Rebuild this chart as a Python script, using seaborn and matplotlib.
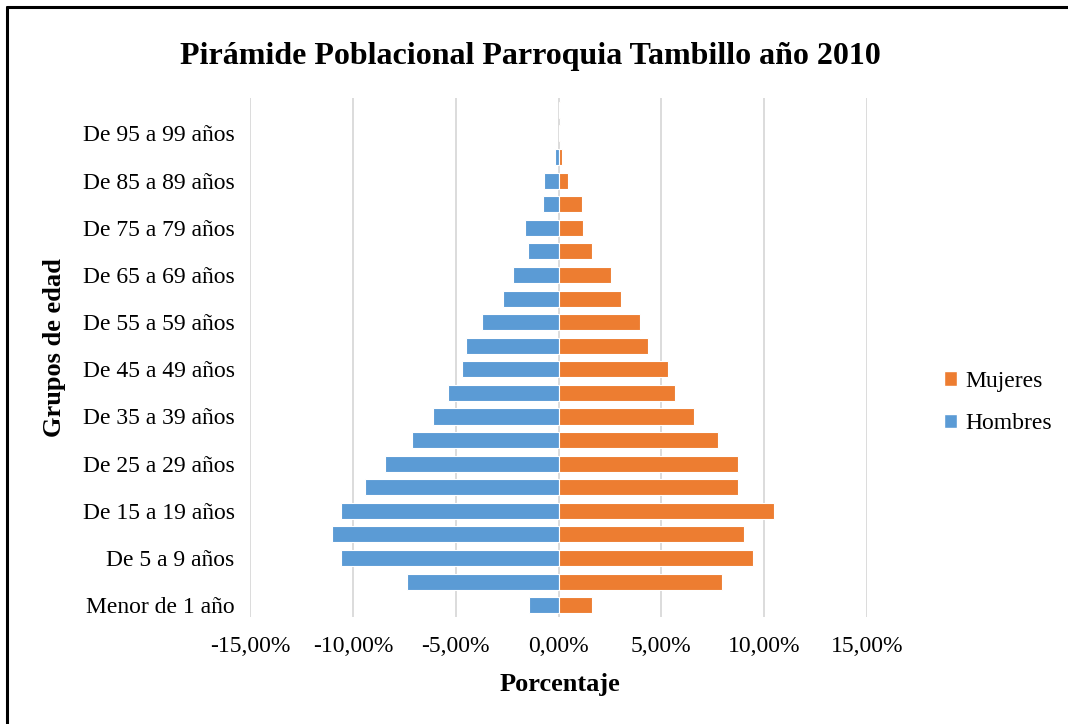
import matplotlib
matplotlib.use("Agg")
import matplotlib.pyplot as plt
from matplotlib.lines import Line2D
from matplotlib.patches import Patch
from matplotlib.ticker import FuncFormatter, MultipleLocator
import numpy as np
import pandas as pd
import seaborn as sns

sns.set_style("white")
plt.rcParams['font.family'] = ['Liberation Serif', 'DejaVu Serif']
plt.rcParams['text.color'] = 'black'
plt.rcParams['axes.labelcolor'] = 'black'

# grupos de edad, de abajo hacia arriba
grupos = ["Menor de 1 año", "De 1 a 4 años", "De 5 a 9 años", "De 10 a 14 años",
          "De 15 a 19 años", "De 20 a 24 años", "De 25 a 29 años", "De 30 a 34 años",
          "De 35 a 39 años", "De 40 a 44 años", "De 45 a 49 años", "De 50 a 54 años",
          "De 55 a 59 años", "De 60 a 64 años", "De 65 a 69 años", "De 70 a 74 años",
          "De 75 a 79 años", "De 80 a 84 años", "De 85 a 89 años", "De 90 a 94 años",
          "De 95 a 99 años", "De 100 años y más"]

# porcentajes (%), hombres negativos
hombres = [-1.42, -7.35, -10.59, -11.03, -10.59, -9.42, -8.45, -7.10,
           -6.11, -5.36, -4.67, -4.49, -3.71, -2.69, -2.22, -1.46,
           -1.62, -0.73, -0.70, -0.16, 0.0, 0.0]
mujeres = [1.61, 7.97, 9.48, 9.00, 10.49, 8.72, 8.72, 7.74,
           6.60, 5.67, 5.31, 4.35, 3.96, 3.03, 2.55, 1.61,
           1.20, 1.12, 0.46, 0.18, 0.07, 0.07]

azul = "#5B9BD5"
naranja = "#ED7D31"

df = pd.DataFrame({
    "Grupo": grupos * 2,
    "Porcentaje": hombres + mujeres,
    "Sexo": ["Hombres"] * len(grupos) + ["Mujeres"] * len(grupos),
})

fig = plt.figure(figsize=(10.68, 7.24), dpi=100)
ax = fig.add_axes([0.2341, 0.1478, 0.5777, 0.7168])

ax.grid(axis='x', color='#D9D9D9', linewidth=1.3, zorder=0)
ax.set_axisbelow(True)

sns.barplot(data=df, x="Porcentaje", y="Grupo", hue="Sexo", order=grupos[::-1],
            dodge=False, palette={"Hombres": azul, "Mujeres": naranja}, saturation=1,
            width=0.68, edgecolor='white', linewidth=0.8, ax=ax, legend=False,
            zorder=2)

ax.set_xlim(-15, 15)
ax.xaxis.set_major_locator(MultipleLocator(5))
ax.xaxis.set_major_formatter(FuncFormatter(lambda v, p: f"{v:.2f}%".replace('.', ',')))

ticks = ax.get_yticks()
labels = grupos[::-1]
ax.set_yticks(ticks)
ax.set_yticklabels([lab if (len(grupos) - 1 - i) % 2 == 0 else "" for i, lab in enumerate(labels)])

ax.tick_params(axis='both', length=0, labelsize=17, colors='black')
ax.tick_params(axis='x', pad=14)
ax.tick_params(axis='y', pad=11)
for s in ax.spines.values():
    s.set_visible(False)

ax.set_xlabel("Porcentaje", fontsize=19, fontweight='bold', color='black')
ax.set_ylabel("Grupos de edad", fontsize=19, fontweight='bold', color='black')
ax.xaxis.set_label_coords(0.503, -0.108)
ax.yaxis.set_label_coords(-0.298, 0.52)

fig.text(0.497, 0.922, "Pirámide Poblacional Parroquia Tambillo año 2010",
         ha='center', va='center', fontsize=23, fontweight='bold', color='black')

handles = [Patch(facecolor=naranja, label="Mujeres"),
           Patch(facecolor=azul, label="Hombres")]
leg = fig.legend(handles=handles, loc='center left', bbox_to_anchor=(0.864, 0.444),
                 frameon=False, fontsize=17, handlelength=0.55, handleheight=0.55,
                 handletextpad=0.35, labelspacing=0.9)
for t in leg.get_texts():
    t.set_color('black')

# marco de la imagen (solo arriba e izquierda visibles)
fig.add_artist(Line2D([7 / 1068, 7 / 1068], [0, 1 - 7 / 724], color='black', linewidth=2.2,
                      transform=fig.transFigure))
fig.add_artist(Line2D([7 / 1068, 1], [1 - 7 / 724, 1 - 7 / 724], color='black', linewidth=2.2,
                      transform=fig.transFigure))

fig.savefig("out.png", dpi=100)
